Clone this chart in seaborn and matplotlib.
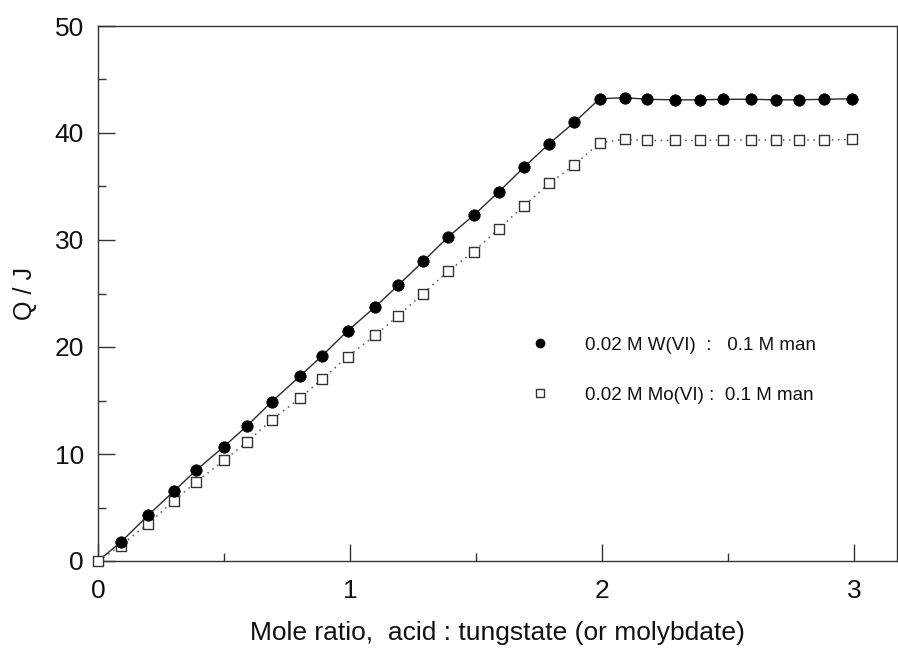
import matplotlib
matplotlib.use("Agg")
import matplotlib.pyplot as plt
from matplotlib.lines import Line2D
from matplotlib.ticker import MultipleLocator
import seaborn as sns
import pandas as pd

# Mole ratio of added acid to oxo-anion
mole_ratio = [0, 0.09, 0.20, 0.30, 0.39, 0.50, 0.59, 0.69, 0.80, 0.89, 0.99,
              1.10, 1.19, 1.29, 1.39, 1.49, 1.59, 1.69, 1.79, 1.89, 1.99,
              2.09, 2.18, 2.29, 2.39, 2.48, 2.59, 2.69, 2.78, 2.88, 2.99]
# Heat evolved, Q / J
q_tungstate = [0, 1.75, 4.3, 6.5, 8.5, 10.7, 12.6, 14.9, 17.25, 19.2, 21.5,
               23.75, 25.75, 28.0, 30.3, 32.3, 34.5, 36.8, 39.0, 41.0, 43.2,
               43.3, 43.15, 43.1, 43.1, 43.15, 43.15, 43.1, 43.1, 43.15, 43.2]
q_molybdate = [0, 1.43, 3.5, 5.6, 7.4, 9.4, 11.1, 13.2, 15.2, 17.0, 19.1,
               21.1, 22.9, 25.0, 27.1, 28.9, 31.05, 33.2, 35.3, 37.0, 39.1,
               39.4, 39.3, 39.3, 39.3, 39.35, 39.35, 39.35, 39.35, 39.35, 39.4]

series_labels = ["0.02 M W(VI)  :   0.1 M man", "0.02 M Mo(VI) :  0.1 M man"]
x_ticks = [0, 1, 2, 3]
y_ticks = [0, 10, 20, 30, 40, 50]

df_w = pd.DataFrame({"ratio": mole_ratio, "Q": q_tungstate})
df_mo = pd.DataFrame({"ratio": mole_ratio, "Q": q_molybdate})

sns.set_theme(style="ticks")
plt.rcParams["font.family"] = ["Liberation Sans", "DejaVu Sans"]

fig = plt.figure(figsize=(8.98, 6.48), dpi=100)
ax = fig.add_axes([98 / 898, 87 / 648, 799 / 898, 535 / 648])

# connecting lines
sns.lineplot(data=df_w, x="ratio", y="Q", ax=ax, color="#2a2a2a",
             linewidth=1.0, linestyle="-", sort=False, zorder=2)
sns.lineplot(data=df_mo, x="ratio", y="Q", ax=ax, color="#555555",
             linewidth=1.1, linestyle=(0, (1, 3)), sort=False, zorder=2)

# data points
sns.scatterplot(data=df_mo, x="ratio", y="Q", ax=ax, marker="s", s=60,
                facecolor="white", edgecolor="#333333", linewidth=1.0,
                zorder=3, clip_on=False)
sns.scatterplot(data=df_w.iloc[1:], x="ratio", y="Q", ax=ax, marker="o", s=68,
                color="black", edgecolor="black", linewidth=0.5, zorder=4)

ax.set_xlim(0, 3.17)
ax.set_ylim(0, 50)
ax.set_xticks(x_ticks)
ax.set_yticks(y_ticks)
ax.xaxis.set_minor_locator(MultipleLocator(0.5))
ax.yaxis.set_minor_locator(MultipleLocator(5))
ax.tick_params(axis="both", which="major", direction="in", length=12,
               width=1.0, color="#333333", labelsize=19, labelcolor="#111111")
ax.tick_params(axis="both", which="minor", direction="in", length=6,
               width=1.0, color="#333333")
ax.tick_params(axis="x", which="major", pad=13)
ax.tick_params(axis="y", which="major", pad=10)

for side in ["left", "right", "top", "bottom"]:
    ax.spines[side].set_visible(True)
    ax.spines[side].set_linewidth(1.0)
    ax.spines[side].set_color("#333333")

ax.set_xlabel("Mole ratio,  acid : tungstate (or molybdate)", fontsize=19,
              color="#111111", labelpad=13)
ax.set_ylabel("Q / J", fontsize=18, color="#111111", labelpad=13)

handles = [
    Line2D([], [], marker="o", linestyle="", color="black", markersize=6),
    Line2D([], [], marker="s", linestyle="", markerfacecolor="white",
           markeredgecolor="#333333", markeredgewidth=1.0, markersize=5.5),
]
leg = ax.legend(handles, series_labels, loc="upper left",
                bbox_to_anchor=(512 / 898, 1 - 320 / 648),
                bbox_transform=fig.transFigure, frameon=False,
                handlelength=1.2, handletextpad=1.8, labelspacing=1.75,
                prop={"family": ["Liberation Sans Narrow", "Liberation Sans"],
                      "size": 13.5})
for t in leg.get_texts():
    t.set_color("#111111")

fig.savefig("out.png", dpi=100)
